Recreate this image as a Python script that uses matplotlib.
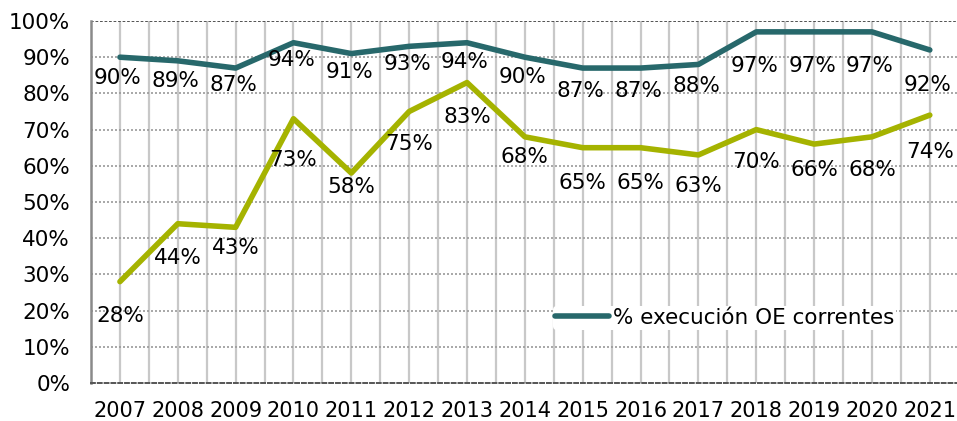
import numpy as np
import matplotlib.pyplot as plt

years = ["2007", "2008", "2009", "2010", "2011", "2012", "2013", "2014",
         "2015", "2016", "2017", "2018", "2019", "2020", "2021"]
oe_correntes = [90, 89, 87, 94, 91, 93, 94, 90, 87, 87, 88, 97, 97, 97, 92]
outra_serie = [28, 44, 43, 73, 58, 75, 83, 68, 65, 65, 63, 70, 66, 68, 74]

# label offsets below each point (pixels)
teal_off = [21, 20, 17, 17, 18, 18, 19, 20, 23, 23, 22, 34, 34, 34, 35]
olive_off = [34, 34, 21, 41, 14, 33, 34, 20, 35, 35, 31, 32, 26, 33, 37]

TEAL = "#27686b"
OLIVE = "#a5b300"
FS = 15.5

fig = plt.figure(figsize=(9.57, 4.21), dpi=100)
ax = fig.add_axes([91 / 957, 1 - 383 / 421, 1 - 91 / 957, (383 - 21) / 421])

x = np.arange(len(years))

# grid: vertical lines every half category, horizontal dotted every 10%
for gx in np.arange(0, len(years), 0.5):
    ax.axvline(gx, color="#c8c8c8", lw=1.6, zorder=0)
for gy in range(10, 100, 10):
    ax.axhline(gy, color="#9a9a9a", lw=1.2, ls=(0, (1.2, 1.2)), zorder=0)

ax.plot(x, oe_correntes, color=TEAL, lw=4, solid_capstyle="round",
        label="% execución OE correntes", zorder=3)
ax.plot(x, outra_serie, color=OLIVE, lw=4, solid_capstyle="round", zorder=3)

for i in range(len(years)):
    ax.annotate(f"{oe_correntes[i]}%", (x[i], oe_correntes[i]),
                xytext=(-2, -teal_off[i]), textcoords="offset pixels",
                ha="center", va="center", fontsize=FS, zorder=4)
    ax.annotate(f"{outra_serie[i]}%", (x[i], outra_serie[i]),
                xytext=(0, -olive_off[i]), textcoords="offset pixels",
                ha="center", va="center", fontsize=FS, zorder=4)

ax.set_xlim(-0.5, 14.47)
ax.set_ylim(0, 100)
ax.set_xticks(x)
ax.set_xticklabels(years, fontsize=15)
ax.set_yticks(range(0, 101, 10))
ax.set_yticklabels([f"{v}%" for v in range(0, 101, 10)], fontsize=FS)
ax.tick_params(length=0)
ax.tick_params(axis="y", pad=15)
ax.tick_params(axis="x", pad=13)

for s in ["top", "right"]:
    ax.spines[s].set_visible(False)
ax.spines["left"].set_color("#8a8a8a")
ax.spines["left"].set_linewidth(1.8)
ax.spines["bottom"].set_color("#555555")
ax.spines["bottom"].set_linewidth(1.4)
ax.spines["bottom"].set_linestyle((0, (2, 1.5)))
ax.axhline(100, color="#444444", lw=1.3, ls=(0, (1.5, 1)), zorder=1)

leg = ax.legend(loc="center left", bbox_to_anchor=(0.533, 0.18), frameon=True,
                fontsize=FS, handlelength=2.5, handletextpad=0.2,
                borderpad=0.1, borderaxespad=0)
leg.get_frame().set_facecolor("white")
leg.get_frame().set_edgecolor("none")
leg.get_frame().set_alpha(1)

plt.savefig("out.png", dpi=100)
